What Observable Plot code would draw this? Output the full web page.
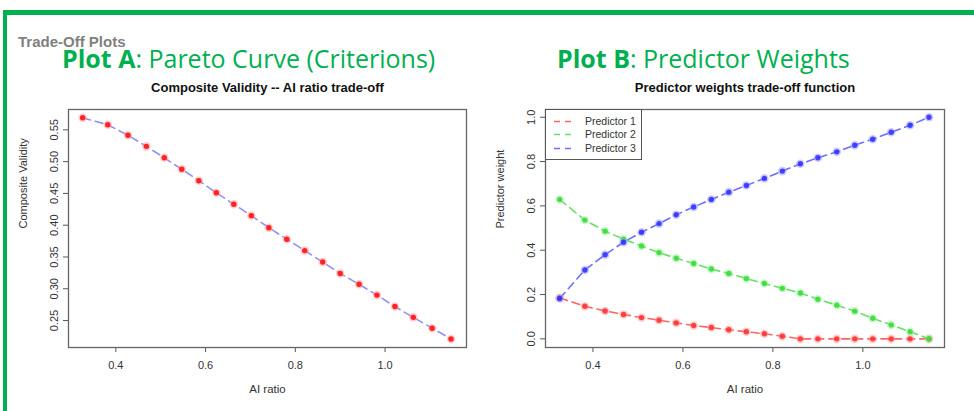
<!DOCTYPE html>
<html>
<head>
<meta charset="utf-8">
<script src="https://cdn.jsdelivr.net/npm/d3@7"></script>
<script src="https://cdn.jsdelivr.net/npm/@observablehq/plot@0.6"></script>
<style>
  body { margin: 0; background: #fff; }
  #root { position: relative; width: 974px; height: 411px; background: #fff; overflow: hidden; }
  .abs { position: absolute; white-space: nowrap; }
  .big { font-family: "Open Sans", sans-serif; font-size: 25px; color: #00b050; line-height: 17px; }
  .big b { font-weight: 700; }
  .legend { position: absolute; border: 1px solid #555; background: #fff; box-sizing: border-box;
            font-family: "Liberation Sans", Arial, sans-serif; font-size: 10.5px; color: #333; }
  .legend .row { position: absolute; left: 0; height: 12px; line-height: 12px; }
  .legend svg { position: absolute; left: 8px; top: 0; }
  .legend span { position: absolute; left: 39px; top: 0; }
</style>
</head>
<body>
<div id="root">
  <div class="abs" style="left:3px;top:10px;width:971px;height:5px;background:#00b050"></div>
  <div class="abs" style="left:3px;top:10px;width:4px;height:401px;background:#00b050"></div>
  <div class="abs" id="tradeoff" style="left:18px;top:36px;font-family:'Liberation Sans',Arial,sans-serif;font-weight:bold;font-size:15px;color:#808080;line-height:12px">Trade-Off Plots</div>
  <div class="abs big" style="left:62px;top:50px"><b>Plot A</b>: Pareto Curve (Criterions)</div>
  <div class="abs big" style="left:557px;top:50px"><b>Plot B</b>: Predictor Weights</div>
  <div id="plotA" class="abs" style="left:0;top:0"></div>
  <div id="plotB" class="abs" style="left:487px;top:0"></div>
  <div class="legend" id="legend" style="left:545px;top:109px;width:97px;height:51px"></div>
</div>
<script>
// ---- data ----
const aiRatio = [0.326, 0.382, 0.427, 0.468, 0.508, 0.547, 0.585, 0.624, 0.663, 0.702, 0.741,
                 0.781, 0.821, 0.861, 0.900, 0.942, 0.982, 1.022, 1.063, 1.105, 1.147];
const compositeValidity = [0.569, 0.558, 0.5415, 0.524, 0.506, 0.488, 0.470, 0.451, 0.433, 0.415, 0.396,
                           0.378, 0.360, 0.342, 0.324, 0.307, 0.290, 0.272, 0.255, 0.238, 0.221];
const predictor1 = [0.185, 0.147, 0.126, 0.110, 0.096, 0.084, 0.072, 0.060, 0.051, 0.041, 0.032,
                    0.023, 0.012, 0, 0, 0, 0, 0, 0, 0, 0];
const predictor2 = [0.629, 0.536, 0.486, 0.450, 0.419, 0.389, 0.364, 0.340, 0.315, 0.295, 0.272,
                    0.250, 0.228, 0.207, 0.179, 0.152, 0.125, 0.093, 0.063, 0.032, 0];
const predictor3 = [0.182, 0.311, 0.380, 0.436, 0.481, 0.520, 0.560, 0.595, 0.629, 0.662, 0.692,
                    0.724, 0.757, 0.790, 0.817, 0.844, 0.874, 0.901, 0.932, 0.964, 1.0];
const seriesNames = ["Predictor 1", "Predictor 2", "Predictor 3"];
const xTicks = [0.4, 0.6, 0.8, 1.0];
const yTicksA = [0.25, 0.30, 0.35, 0.40, 0.45, 0.50, 0.55];
const yTicksB = [0.0, 0.2, 0.4, 0.6, 0.8, 1.0];

const lineColors = ["#ff6464", "#66e066", "#6e6eff"];
const dotColors = ["#ff2a2a", "#30dc30", "#2a2aff"];
const haloColors = ["#ff9a9a", "#a0f0a0", "#9a9aff"];

const font = "'Liberation Sans', Arial, sans-serif";
const rowsA = aiRatio.map((x, i) => ({x, y: compositeValidity[i]}));
const weights = [predictor1, predictor2, predictor3];
const rowsB = weights.flatMap((arr, s) => arr.map((y, i) => ({x: aiRatio[i], y, s})));

const xDomain = [0.2945, 1.1815];

function axes(yTicks, fmt) {
  return [
    Plot.axisX({ticks: xTicks, tickFormat: d3.format(".1f"), tickSize: 5, tickPadding: 9,
                fontSize: 11, stroke: "#555", fill: "#333", label: null}),
    Plot.axisY({ticks: yTicks, tickFormat: d3.format(fmt), tickSize: 5, tickPadding: 6, tickRotate: -90,
                fontSize: 11, stroke: "#555", fill: "#333", label: null})
  ];
}

const plotA = Plot.plot({
  width: 487, height: 411,
  marginLeft: 68, marginRight: 21, marginTop: 109, marginBottom: 64,
  style: {fontFamily: font, background: "transparent", overflow: "visible"},
  x: {domain: xDomain},
  y: {domain: [0.2076, 0.582]},
  marks: [
    ...axes(yTicksA, ".2f"),
    Plot.frame({stroke: "#666", strokeWidth: 1.3}),
    Plot.line(rowsA, {x: "x", y: "y", stroke: "#8f8fff", strokeWidth: 1.6, strokeDasharray: "8,5"}),
    Plot.dot(rowsA, {x: "x", y: "y", r: 4.3, fill: "#ff9a9a", fillOpacity: 0.5}),
    Plot.dot(rowsA, {x: "x", y: "y", r: 2.7, fill: "#ff2222"}),
    Plot.text(["AI ratio"], {frameAnchor: "bottom", dy: 45, fontSize: 11.5, fill: "#333"}),
    Plot.text(["Composite Validity"], {frameAnchor: "left", dx: -45, rotate: -90, fontSize: 11, fill: "#333"}),
    Plot.text(["Composite Validity -- AI ratio trade-off"], {frameAnchor: "top", dy: -27, fontSize: 13, fontWeight: "bold", fill: "#111"})
  ]
});
document.getElementById("plotA").appendChild(plotA);

const plotB = Plot.plot({
  width: 487, height: 411,
  marginLeft: 58, marginRight: 30, marginTop: 109, marginBottom: 64,
  style: {fontFamily: font, background: "transparent", overflow: "visible"},
  x: {domain: xDomain},
  y: {domain: [-0.039, 1.035]},
  marks: [
    ...axes(yTicksB, ".1f"),
    Plot.frame({stroke: "#666", strokeWidth: 1.3}),
    ...[0, 1, 2].flatMap(s => {
      const d = rowsB.filter(r => r.s === s);
      return [
        Plot.line(d, {x: "x", y: "y", stroke: lineColors[s], strokeWidth: 1.6, strokeDasharray: "8,5"}),
        Plot.dot(d, {x: "x", y: "y", r: 4.3, fill: haloColors[s], fillOpacity: 0.5}),
        Plot.dot(d, {x: "x", y: "y", r: 2.7, fill: dotColors[s], fillOpacity: 0.85})
      ];
    }),
    Plot.text(["AI ratio"], {frameAnchor: "bottom", dy: 45, fontSize: 11.5, fill: "#333"}),
    Plot.text(["Predictor weight"], {frameAnchor: "left", dx: -45, rotate: -90, fontSize: 11, fill: "#333"}),
    Plot.text(["Predictor weights trade-off function"], {frameAnchor: "top", dy: -27, fontSize: 13, fontWeight: "bold", fill: "#111"})
  ]
});
document.getElementById("plotB").appendChild(plotB);

// legend
const legend = document.getElementById("legend");
const rowTops = [5, 18, 31.5];
seriesNames.forEach((name, i) => {
  const row = document.createElement("div");
  row.className = "row";
  row.style.top = rowTops[i] + "px";
  row.style.width = "95px";
  row.innerHTML = `<svg width="22" height="12"><line x1="0" y1="6.5" x2="20" y2="6.5" stroke="${lineColors[i]}" stroke-width="1.6" stroke-dasharray="6,5"/></svg><span>${name}</span>`;
  legend.appendChild(row);
});
</script>
</body>
</html>
